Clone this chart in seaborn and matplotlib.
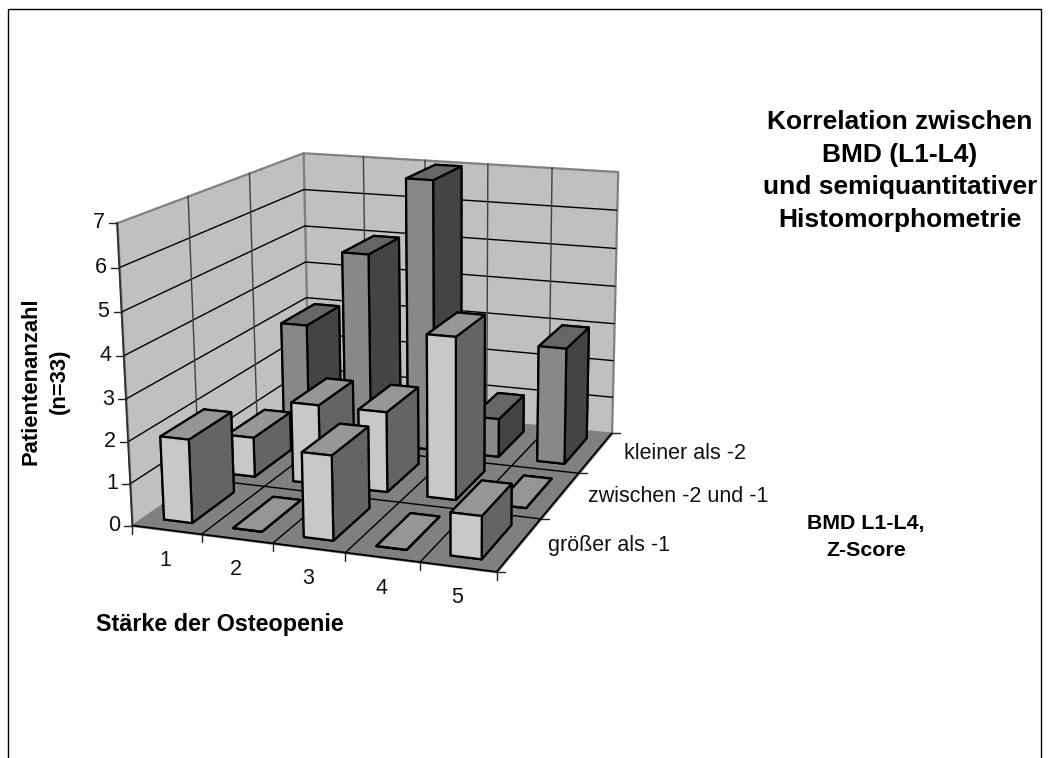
import numpy as np
import matplotlib
matplotlib.use('Agg')
import matplotlib.pyplot as plt
import seaborn as sns
from matplotlib.lines import Line2D
from matplotlib.patches import Rectangle
from matplotlib.transforms import Affine2D
from mpl_toolkits.mplot3d.art3d import Poly3DCollection

W, H = 1050, 758

# Daten
categories = ['1', '2', '3', '4', '5']
rows = ['größer als -1', 'zwischen -2 und -1', 'kleiner als -2']
values_gross = [2, 0, 2, 0, 1]
values_zwischen = [1, 2, 2, 4, 0]
values_klein = [3, 5, 7, 1, 3]
z_ticks = [0, 1, 2, 3, 4, 5, 6, 7]

sns.set_theme(style='white')
plt.rcParams['font.family'] = ['Liberation Sans', 'DejaVu Sans']

fig = plt.figure(figsize=(W / 100, H / 100), dpi=100)
ax = fig.add_axes([0, 0, 1, 1], projection='3d')
ax.apply_aspect = lambda position=None: None
ax.set_position([0, 0, 1, 1])
ax.set_axis_off()
ax.patch.set_visible(False)
ax.computed_zorder = False

nx, ny, nz = len(categories), len(rows), z_ticks[-1]

# Ecken des Diagrammraums im Bild (Pixel), daraus die Excel-Perspektive
world = np.array([[0, 0, 0], [nx, 0, 0], [nx, ny, 0], [0, ny, 0],
                  [0, 0, nz], [0, ny, nz], [nx, ny, nz]], float)
pixel = np.array([[131, 524], [497, 573], [611, 432], [310, 404],
                  [118, 223], [302, 152], [618, 172]], float)


def fit_camera(src, dst):
    a = []
    for (x, y, z), (u, v) in zip(src, dst):
        a.append([x, y, z, 1, 0, 0, 0, 0, -u * x, -u * y, -u * z, -u])
        a.append([0, 0, 0, 0, x, y, z, 1, -v * x, -v * y, -v * z, -v])
    p = np.linalg.svd(np.array(a))[2][-1].reshape(3, 4)
    if p[2] @ [nx / 2, ny / 2, nz / 2, 1] < 0:
        p = -p
    return p


cam_px = fit_camera(world, pixel)


def to_px(x, y, z):
    v = cam_px @ [x, y, z, 1]
    return v[0] / v[2], v[1] / v[2]


# gleiche Kamera in den Koordinaten der 3D-Achse
view = ax.transData.inverted().transform(np.c_[pixel[:, 0], H - pixel[:, 1]])
cam = fit_camera(world, view)
M = np.vstack([cam[0], cam[1], [0, 0, 0, -1], cam[2]])
ax.get_proj = lambda: M

px_trans = Affine2D().scale(1 / W, -1 / H).translate(0, 1) + fig.transFigure

# Waende und Boden
wall_c, floor_c, edge_c = '#c0c0c0', '#808080', '#808080'
back = [(0, ny, 0), (nx, ny, 0), (nx, ny, nz), (0, ny, nz)]
left = [(0, 0, 0), (0, ny, 0), (0, ny, nz), (0, 0, nz)]
floor = [(0, 0, 0), (nx, 0, 0), (nx, ny, 0), (0, ny, 0)]
for poly, c in [(back, wall_c), (left, wall_c), (floor, floor_c)]:
    ax.add_collection3d(Poly3DCollection([poly], facecolors=c, edgecolors=edge_c,
                                         linewidths=1.6, zorder=1))

grid_kw = dict(color='black', lw=1.0, zorder=1.5)
for z in z_ticks[1:-1]:
    ax.plot([0, nx], [ny, ny], [z, z], **grid_kw)
    ax.plot([0, 0], [0, ny], [z, z], **grid_kw)
for x in range(1, nx):
    ax.plot([x, x], [ny, ny], [0, nz], color='#404040', lw=1.0, zorder=1.5)
    ax.plot([x, x], [0, ny], [0, 0], **grid_kw)
for y in range(1, ny):
    ax.plot([0, 0], [y, y], [0, nz], color='#404040', lw=1.0, zorder=1.5)
    ax.plot([0, nx], [y, y], [0, 0], **grid_kw)
ax.plot([0, nx], [0, 0], [0, 0], color='black', lw=1.3, zorder=1.6)
ax.plot([nx, nx], [0, ny], [0, 0], color='black', lw=1.3, zorder=1.6)
ax.plot([0, 0], [0, 0], [0, nz], color='#303030', lw=1.3, zorder=1.6)

# Saeulen, von hinten nach vorne
hell = ('#969696', '#c8c8c8', '#646464')
dunkel = ('#666666', '#888888', '#444444')
series = [(values_klein, dunkel, 2), (values_zwischen, hell, 1), (values_gross, hell, 0)]
bar_x0, bar_w = 0.29, 0.41
bar_y0, bar_d = 0.17, 0.65
order = 3
for vals, (top, front, side), row in series:
    for i, v in enumerate(vals):
        ax.bar3d([i + bar_x0], [row + bar_y0], [0], bar_w, bar_d, v,
                 color=[top, top, front, front, side, side], edgecolor='black',
                 linewidth=1.6, shade=False, zorder=order)
        order += 0.01

ax.set_xlim(0, nx)
ax.set_ylim(0, ny)
ax.set_zlim(0, nz)


def tick(x0, y0, x1, y1):
    fig.add_artist(Line2D([x0, x1], [y0, y1], color='#202020', lw=1.0, transform=px_trans))


def label(x, y, s, **kw):
    kw.setdefault('fontsize', 15.5)
    kw.setdefault('color', '#111111')
    kw.setdefault('ha', 'center')
    kw.setdefault('va', 'center')
    fig.text(x, y, s, transform=px_trans, **kw)


# Achsenbeschriftung
for z in z_ticks:
    u, v = to_px(0, 0, z)
    tick(u - 8, v, u, v)
    label(u - 12, v, str(z), ha='right')
for i in range(nx + 1):
    u, v = to_px(i, 0, 0)
    tick(u, v, u, v + 8)
for i, c in enumerate(categories):
    u, v = to_px(i + 0.5, 0, 0)
    label(u - 1, v + 31, c)
for j in range(ny + 1):
    u, v = to_px(nx, j, 0)
    tick(u, v, u + 8, v)
for j, r in enumerate(rows):
    u, v = to_px(nx, j + 0.5, 0)
    label(u + 28, v + 1, r, ha='left')

label(900, 171, 'Korrelation zwischen\nBMD (L1-L4)\nund semiquantitativer\nHistomorphometrie',
      fontweight='bold', fontsize=19, linespacing=1.44, color='black')
label(45, 381, 'Patientenanzahl\n(n=33)', fontweight='bold', fontsize=15.8, rotation=90,
      linespacing=1.48, color='black')
label(220, 624, 'Stärke der Osteopenie', fontweight='bold', fontsize=16.8, color='black')
label(866, 537, 'BMD L1-L4,\nZ-Score', fontweight='bold', fontsize=15.4, linespacing=1.57, color='black')

# Rahmen, unten abgeschnitten
fig.add_artist(Rectangle((8, 9), 1033, 800, fill=False, edgecolor='black', lw=1.0,
                         transform=px_trans, clip_on=True))

fig.savefig('out.png', dpi=100)
